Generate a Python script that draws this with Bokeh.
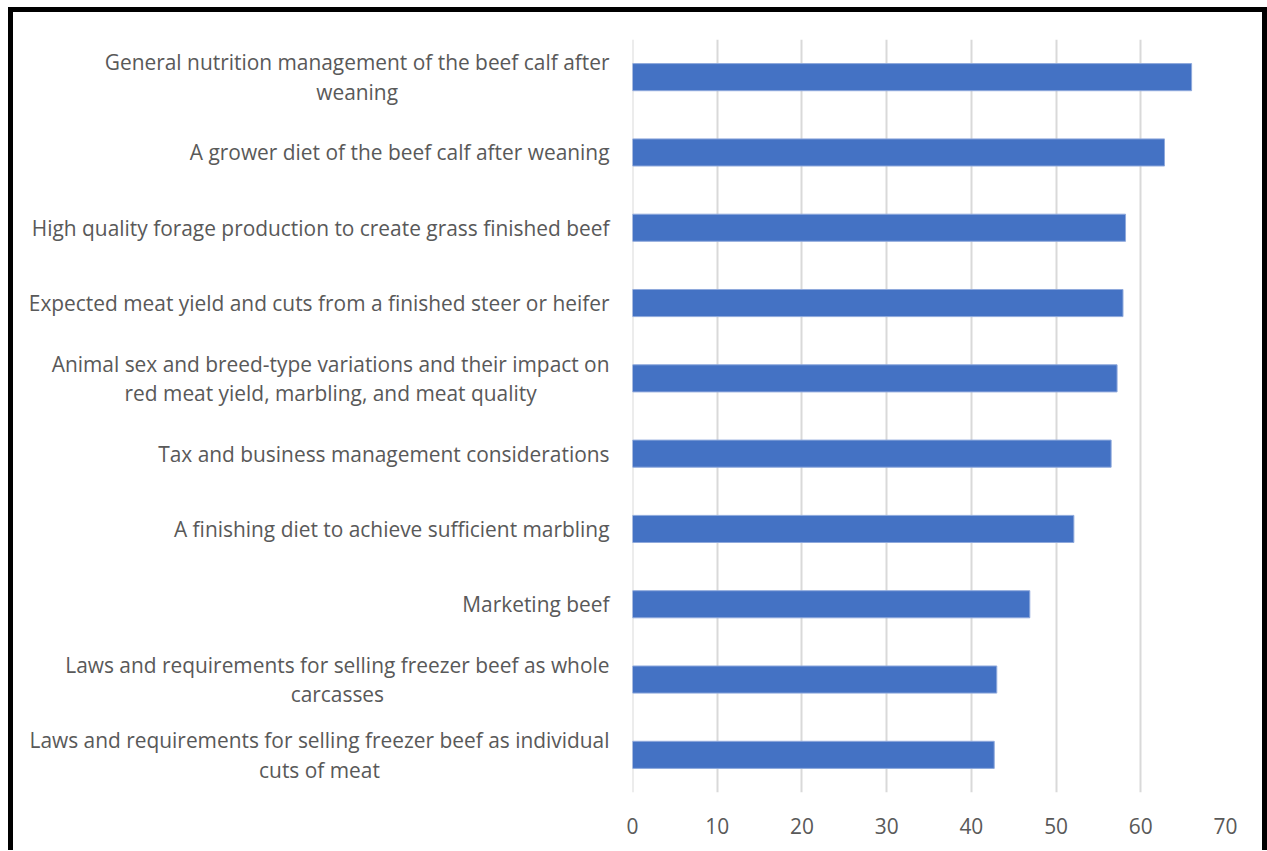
from bokeh.plotting import figure
from bokeh.layouts import row
from bokeh.models import FactorRange, Range1d, FixedTicker, Span
from bokeh.core.properties import value
from bokeh.embed import file_html
from bokeh.resources import INLINE

categories = [
    "General nutrition management of the beef calf after\nweaning",
    "A grower diet of the beef calf after weaning",
    "High quality forage production to create grass finished beef",
    "Expected meat yield and cuts from a finished steer or heifer",
    "Animal sex and breed-type variations and their impact on\nred meat yield, marbling, and meat quality",
    "Tax and business management considerations",
    "A finishing diet to achieve sufficient marbling",
    "Marketing beef",
    "Laws and requirements for selling freezer beef as whole\ncarcasses",
    "Laws and requirements for selling freezer beef as individual\ncuts of meat",
]
values = [66.0, 62.8, 58.2, 57.9, 57.2, 56.5, 52.1, 46.9, 43.0, 42.7]
x_ticks = [0, 10, 20, 30, 40, 50, 60, 70]
label_anchor_x = [1.0] * len(categories)

FONT = "Open Sans"
GREY = "#595959"
H = 843
TOP = 27
BOTTOM = 63

y_range = FactorRange(factors=list(reversed(categories)), range_padding=0)

# left panel: category labels (multi-line, centred lines, right-anchored block)
lab = figure(
    width=607, height=H, y_range=y_range, x_range=Range1d(0, 1),
    output_backend="svg", toolbar_location=None,
    min_border_left=0, min_border_right=0,
    min_border_top=TOP, min_border_bottom=BOTTOM,
)
lab.styles = {"border-top": "5px solid black", "border-left": "5px solid black"}
lab.axis.visible = False
lab.grid.visible = False
lab.outline_line_color = None
lab.text(x=label_anchor_x, y=categories, text=categories,
         anchor="center_right", text_align="center", x_offset=-11,
         text_font=value(FONT), text_font_size="20.9px", text_color=GREY,
         text_line_height=1.05)

# right panel: bars
p = figure(
    width=652, height=H, y_range=y_range, x_range=Range1d(0, 70),
    output_backend="svg", toolbar_location=None,
    min_border_left=17, min_border_right=42,
    min_border_top=TOP, min_border_bottom=BOTTOM,
)
p.styles = {"border-top": "5px solid black", "border-right": "5px solid black"}
p.outline_line_color = None

p.hbar(y=categories, right=values, left=0, height=0.36,
       fill_color="#4472C4", line_color="#8fa9dc", line_width=1)

p.add_layout(Span(location=x_ticks[0], dimension="height",
                  line_color="#d9d9d9", line_width=2, level="underlay"))

p.xaxis.ticker = FixedTicker(ticks=x_ticks)
p.xaxis.axis_line_color = None
p.xaxis.major_tick_line_color = None
p.xaxis.minor_tick_line_color = None
p.xaxis.major_label_text_font = FONT
p.xaxis.major_label_text_font_size = "20.9px"
p.xaxis.major_label_text_color = GREY
p.xaxis.major_label_standoff = 19

p.yaxis.visible = False
p.ygrid.grid_line_color = None
p.xgrid.grid_line_color = "#d9d9d9"
p.xgrid.grid_line_width = 2

layout = row(lab, p, margin=(7, 0, 0, 8), spacing=0)

open("out.html", "w").write(file_html(layout, INLINE))
